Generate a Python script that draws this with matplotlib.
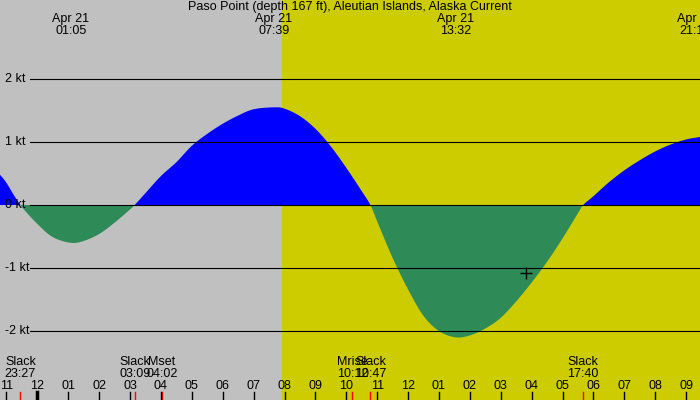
import matplotlib
matplotlib.use("Agg")
import matplotlib.pyplot as plt
import numpy as np

hours = [-1.21,-1.0,-0.55,0,0.5,1.08,1.5,2,2.5,3,3.15,3.5,4,4.5,5,5.5,6,6.5,7,7.65,8,8.5,9,9.5,10,10.5,10.78,
         11,11.5,12,12.5,13,13.53,14,14.5,15,15.5,16,16.5,17,17.5,17.67,18,18.5,19,19.5,20,20.5,21,21.45]
knots = [0.48,0.35,0,-0.30,-0.51,-0.6,-0.57,-0.46,-0.28,-0.07,0,0.19,0.46,0.68,0.94,1.13,1.29,1.42,1.52,1.55,1.53,1.41,1.21,0.93,0.59,0.22,0,
         -0.26,-0.84,-1.34,-1.76,-2.0,-2.1,-2.07,-1.96,-1.79,-1.53,-1.23,-0.9,-0.53,-0.13,0,0.14,0.36,0.55,0.71,0.85,0.96,1.04,1.08]
hour_ticks = list(range(-1, 22))
hour_labels = ["11","12","01","02","03","04","05","06","07","08","09","10","11","12",
               "01","02","03","04","05","06","07","08","09"]
event_times = [-0.55, 3.15, 4.033, 10.2, 10.783, 17.667]
event_names = ["Slack","Slack","Mset","Mrise","Slack","Slack"]
event_clock = ["23:27","03:09","04:02","10:12","10:47","17:40"]
top_times = [1.083, 7.65, 13.533, 21.3]
top_clock = ["01:05","07:39","13:32","21:18"]
sunrise = 7.92
now_h, now_v = 15.82, -1.08
kt_levels = [2,1,0,-1,-2]

def smooth(xs, ys, n=12):
    # Catmull-Rom rendering of the read points (for drawing only)
    xs = np.asarray(xs, float); ys = np.asarray(ys, float)
    px = np.concatenate([[2*xs[0]-xs[1]], xs, [2*xs[-1]-xs[-2]]])
    py_ = np.concatenate([[2*ys[0]-ys[1]], ys, [2*ys[-1]-ys[-2]]])
    ox, oy = [], []
    for i in range(1, len(px)-2):
        t = np.linspace(0, 1, n, endpoint=False)
        for arr, out in ((px, ox), (py_, oy)):
            p0, p1, p2, p3 = arr[i-1], arr[i], arr[i+1], arr[i+2]
            out.extend(0.5*((2*p1) + (-p0+p2)*t + (2*p0-5*p1+4*p2-p3)*t**2 + (-p0+3*p1-3*p2+p3)*t**3))
    ox.append(xs[-1]); oy.append(ys[-1])
    return np.array(ox), np.array(oy)

plt.rcParams['font.family'] = ['Liberation Sans', 'DejaVu Sans']
fig = plt.figure(figsize=(7,4), dpi=100)
ax = fig.add_axes([0,0,1,1])
x0, x1 = -1.21, 21.45
ax.set_xlim(x0, x1)
ax.set_ylim(-3.095, 3.254)
ax.axis('off')
ax.axvspan(x0, sunrise, color='#c0c0c0', zorder=0)
ax.axvspan(sunrise, x1, color='#cccc00', zorder=0)

h, k = smooth(hours, knots)
ax.fill_between(h, 0, k, where=k >= 0, color='#0000ff', interpolate=True, lw=0, zorder=1)
ax.fill_between(h, 0, k, where=k <= 0, color='#2e8b57', interpolate=True, lw=0, zorder=1)

xg = x0 + 30/700*(x1-x0)
for lv in kt_levels:
    ax.plot([xg, x1], [lv, lv], color='black', lw=0.8, zorder=2)
    ax.text(x0 + 5/700*(x1-x0), lv, f"{lv} kt", fontsize=9, va='center', ha='left', zorder=3)

ax.plot([now_h], [now_v], marker='+', color='black', ms=8, mew=1, zorder=4)

fs = 9
ax.text((x0+x1)/2, 3.254 - 7/63, "Paso Point (depth 167 ft), Aleutian Islands, Alaska Current",
        fontsize=fs, ha='center', va='center')
for t, c in zip(top_times, top_clock):
    ax.text(t, 3.254-19/63, "Apr 21", fontsize=fs, ha='center', va='center')
    ax.text(t, 3.254-31/63, c, fontsize=fs, ha='center', va='center')

ytop = 3.254
def py(p): return ytop - p/63
for t, n, c in zip(event_times, event_names, event_clock):
    if t < x0 + 0.5:
        xt, ha = x0 + 5/700*(x1-x0), 'left'
    else:
        xt, ha = t, 'center'
    ax.text(xt, py(362), n, fontsize=fs, ha=ha, va='center')
    ax.text(xt, py(374), c, fontsize=fs, ha=ha, va='center')
    ax.plot([t, t], [py(392), py(400)], color='red', lw=1, zorder=3)

for t, l in zip(hour_ticks, hour_labels):
    ax.text(t, py(386), l, fontsize=fs, ha='center', va='center')
    ax.plot([t, t], [py(392), py(400)], color='black', lw=2.5 if t == 0 else 1, zorder=3)

fig.savefig("out.png", dpi=100)
